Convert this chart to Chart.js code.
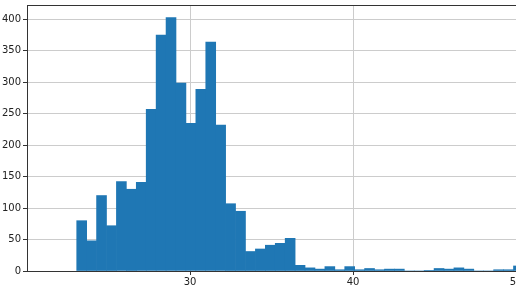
<!DOCTYPE html>
<html><head><meta charset="utf-8">
<script src="https://cdn.jsdelivr.net/npm/chart.js@4/dist/chart.umd.min.js"></script>
<style>
html,body{margin:0;padding:0;overflow:hidden;background:#fff;width:516px;height:289px}
#wrap{position:absolute;left:0;top:0;width:530px;height:289px}
</style></head>
<body><div id="wrap"><canvas id="c" width="530" height="289"></canvas></div>
<script>
// Histogram bin centres (bin width ~0.609)
const binCenters = [23.355,23.964,24.573,25.182,25.791,26.400,27.009,27.618,28.227,28.836,
  29.445,30.054,30.663,31.272,31.881,32.490,33.099,33.708,34.317,34.926,
  35.535,36.144,36.753,37.362,37.971,38.580,39.189,39.798,40.407,41.016,
  41.625,42.234,42.843,43.452,44.061,44.670,45.279,45.888,46.497,47.106,
  47.715,48.324,48.933,49.542,50.151];
const counts = [80,48,120,72,142,130,141,257,375,403,
  299,235,289,364,232,107,95,31,35,41,
  44,52,9,5,3,7,2,7,2,4,
  2,3,3,0,0,1,4,3,5,3,
  0,0,2,2,8];
const xTicks = [30,40,50];
const yTicks = [0,50,100,150,200,250,300,350,400];

const points = binCenters.map((x,i)=>({x:x,y:counts[i]}));

const topSpine = {
  id:'topSpine',
  afterDraw(chart){
    const a = chart.chartArea, ctx = chart.ctx;
    ctx.save();
    ctx.strokeStyle = '#333';
    ctx.lineWidth = 1;
    ctx.beginPath();
    ctx.moveTo(a.left, Math.round(a.top) + 0.5);
    ctx.lineTo(a.right, Math.round(a.top) + 0.5);
    ctx.stroke();
    ctx.restore();
  }
};

const font = {family:'DejaVu Sans', size:10};

new Chart(document.getElementById('c'), {
  type:'bar',
  data:{datasets:[{
    data:points,
    backgroundColor:'#1f77b4',
    borderWidth:0,
    barPercentage:1,
    categoryPercentage:1,
    grouped:false
  }]},
  options:{
    responsive:false,
    animation:false,
    devicePixelRatio:1,
    layout:{padding:{left:0,right:14,top:5,bottom:0}},
    plugins:{legend:{display:false},tooltip:{enabled:false}},
    scales:{
      x:{
        type:'linear', min:20, max:50, offset:false, z:1,
        afterBuildTicks(s){ s.ticks = xTicks.map(v=>({value:v})); },
        afterFit(s){ s.height = 18; s.paddingLeft = 0; s.paddingRight = 0; },
        grid:{color:'#cccccc', lineWidth:1, offset:false, drawTicks:true, tickLength:4, tickColor:'#333'},
        border:{color:'#333', width:1},
        ticks:{font:font, color:'#222', padding:1, maxRotation:0, autoSkip:false}
      },
      y:{
        type:'linear', min:0, max:423, z:1,
        afterBuildTicks(s){ s.ticks = yTicks.map(v=>({value:v})); },
        afterFit(s){ s.width = 27; s.paddingTop = 0; s.paddingBottom = 0; },
        grid:{color:'#cccccc', lineWidth:1, drawTicks:true, tickLength:4, tickColor:'#333'},
        border:{color:'#333', width:1},
        ticks:{font:font, color:'#222', padding:2, autoSkip:false}
      }
    }
  },
  plugins:[topSpine]
});
</script>
</body></html>
